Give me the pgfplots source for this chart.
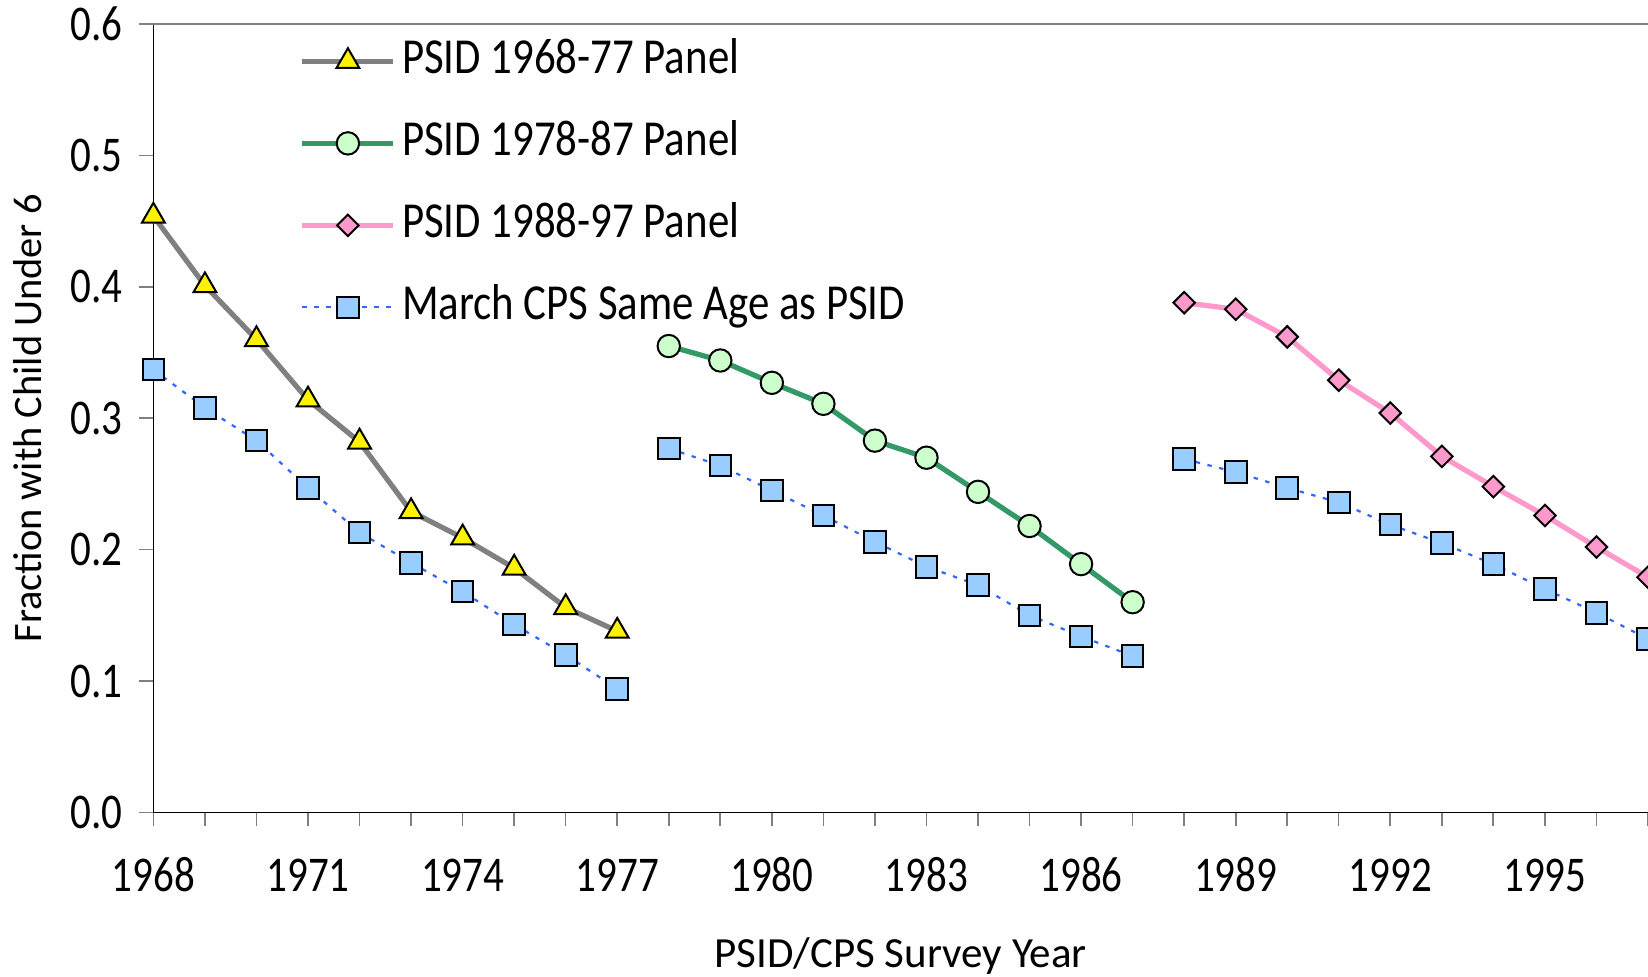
\documentclass[border=0pt]{standalone}
\usepackage{fontspec}
\setmainfont{Carlito}
\newfontfamily\tickfont{Carlito}[FakeStretch=0.82]
\newfontfamily\legfont{Carlito}[FakeStretch=0.85]
\usepackage{pgfplots}
\pgfplotsset{compat=1.18}
\definecolor{psidgray}{RGB}{128,128,128}
\definecolor{psidgreen}{RGB}{51,153,102}
\definecolor{circfill}{RGB}{204,255,204}
\definecolor{psidpink}{RGB}{255,153,204}
\definecolor{cpsblue}{RGB}{51,102,255}
\definecolor{sqfill}{RGB}{153,204,255}
\begin{document}
\begin{tikzpicture}
\begin{axis}[
  name=ax,
  scale only axis,
  width=747.3pt, height=394.1pt,
  xmin=1968, xmax=1997, ymin=0, ymax=0.6,
  clip=false,
  axis x line*=bottom, axis y line*=left,
  x axis line style={black, line width=0.8pt},
  y axis line style={black, line width=0.8pt},
  xtick={1968,1971,...,1995},
  minor xtick={1968,...,1997},
  ytick={0,0.1,0.2,0.3,0.4,0.5,0.6},
  tick align=outside,
  major tick length=7pt, minor tick length=7pt,
  every tick/.style={psidgray, line width=0.8pt},
  /pgf/number format/assume math mode=true,
  scaled x ticks=false, scaled y ticks=false,
  xticklabel style={font=\tickfont\fontsize{25pt}{30pt}\selectfont, /pgf/number format/1000 sep={}, anchor=base, inner sep=0pt, yshift=-32.5pt},
  yticklabel style={font=\tickfont\fontsize{25pt}{30pt}\selectfont, /pgf/number format/.cd, fixed, fixed zerofill, precision=1, /tikz/.cd, anchor=east, inner sep=0pt, xshift=-8.3pt},
  xlabel={PSID/CPS Survey Year},
  ylabel={Fraction with Child Under 6},
  every axis x label/.style={at={(rel axis cs:0.5,-0.1974)}, anchor=base, font=\fontsize{21.5pt}{25pt}\selectfont},
  every axis y label/.style={at={(rel axis cs:-0.0839,0.5)}, anchor=center, rotate=90, font=\fontsize{20.2pt}{24pt}\selectfont},
  unbounded coords=jump,
  legend style={draw=none, fill=none, at={(0,1)}, anchor=north west, xshift=73pt, yshift=-6.4pt,
    font=\legfont\fontsize{25.2pt}{29pt}\selectfont, inner sep=0pt, row sep=17pt, column sep=3pt,
    nodes={inner sep=0pt, text height=18pt, text depth=6pt}},
  legend cell align=left,
  legend image code/.code={\draw[mark repeat=2,mark phase=2,#1] plot coordinates {(0pt,0pt) (22.75pt,0pt) (45.5pt,0pt)};},
]
\draw[psidgray, line width=0.8pt] (rel axis cs:0,1) -- (rel axis cs:1,1);

\addplot[color=psidgray, line width=2.6pt, mark=triangle*, mark size=6.6pt,
  mark options={fill=yellow, draw=black, line width=1pt, solid}] coordinates {
  (1968,0.454) (1969,0.401) (1970,0.360) (1971,0.314) (1972,0.282)
  (1973,0.229) (1974,0.209) (1975,0.186) (1976,0.156) (1977,0.138)};
\addlegendentry{PSID 1968-77 Panel}

\addplot[color=psidgreen, line width=2.6pt, mark=*, mark size=5.6pt,
  mark options={fill=circfill, draw=black, line width=1pt, solid}] coordinates {
  (1978,0.355) (1979,0.344) (1980,0.327) (1981,0.311) (1982,0.283)
  (1983,0.270) (1984,0.244) (1985,0.218) (1986,0.189) (1987,0.160)};
\addlegendentry{PSID 1978-87 Panel}

\addplot[color=psidpink, line width=2.6pt, mark=square*, mark size=3.8pt,
  mark options={fill=psidpink, draw=black, line width=1pt, solid, rotate=45}] coordinates {
  (1988,0.388) (1989,0.383) (1990,0.362) (1991,0.329) (1992,0.304)
  (1993,0.271) (1994,0.248) (1995,0.226) (1996,0.202) (1997,0.179)};
\addlegendentry{PSID 1988-97 Panel}

\addplot[color=cpsblue, line width=1.1pt, dash pattern=on 2.2pt off 3.8pt, mark=square*, mark size=5.4pt,
  mark options={fill=sqfill, draw=black, line width=1pt, solid}] coordinates {
  (1968,0.337) (1969,0.308) (1970,0.283) (1971,0.247) (1972,0.213)
  (1973,0.190) (1974,0.168) (1975,0.143) (1976,0.120) (1977,0.094)
  (1977.5,nan)
  (1978,0.277) (1979,0.264) (1980,0.245) (1981,0.226) (1982,0.206)
  (1983,0.187) (1984,0.173) (1985,0.150) (1986,0.134) (1987,0.119)
  (1987.5,nan)
  (1988,0.269) (1989,0.259) (1990,0.247) (1991,0.236) (1992,0.219)
  (1993,0.205) (1994,0.189) (1995,0.170) (1996,0.152) (1997,0.132)};
\addlegendentry{March CPS Same Age as PSID}
\end{axis}
\pgfresetboundingbox
\path ([xshift=-76.7pt,yshift=-82.3pt]ax.south west) rectangle ([yshift=12.1pt]ax.north east);
\end{tikzpicture}
\end{document}
